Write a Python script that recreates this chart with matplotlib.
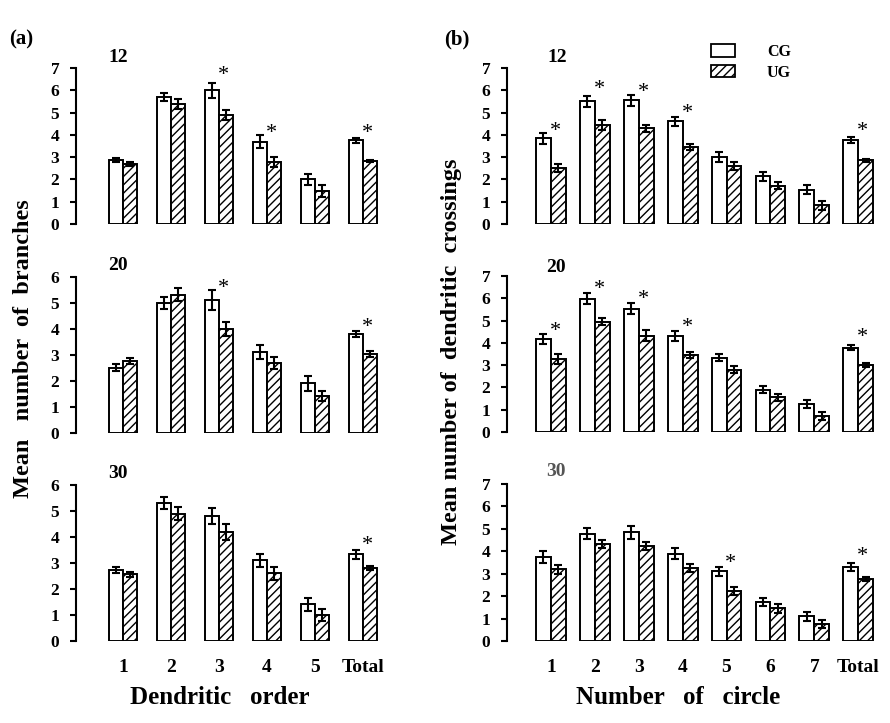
import numpy as np
import matplotlib
matplotlib.use('Agg')
import matplotlib.pyplot as plt
from matplotlib.patches import Patch

plt.rcParams['font.family'] = ['Liberation Serif', 'DejaVu Serif']
plt.rcParams['font.weight'] = 'bold'
plt.rcParams['hatch.linewidth'] = 1.0

# ---- data ----
order_labels = ['1', '2', '3', '4', '5', 'Total']
circle_labels = ['1', '2', '3', '4', '5', '6', '7', 'Total']

# (a) mean number of branches, CG / UG, mean and error
br12_cg = [2.85, 5.7, 6.0, 3.7, 2.0, 3.75]
br12_cg_err = [0.09, 0.16, 0.33, 0.3, 0.25, 0.13]
br12_ug = [2.7, 5.4, 4.89, 2.79, 1.48, 2.83]
br12_ug_err = [0.1, 0.22, 0.22, 0.22, 0.25, 0.05]
br12_stars = {3: 6.97, 4: 4.35, 6: 4.35}

br20_cg = [2.51, 5.01, 5.12, 3.13, 1.91, 3.82]
br20_cg_err = [0.13, 0.24, 0.37, 0.27, 0.28, 0.12]
br20_ug = [2.77, 5.32, 4.01, 2.7, 1.41, 3.04]
br20_ug_err = [0.11, 0.24, 0.26, 0.23, 0.19, 0.1]
br20_stars = {3: 5.81, 6: 4.31}

br30_cg = [2.72, 5.31, 4.81, 3.1, 1.41, 3.33]
br30_cg_err = [0.11, 0.22, 0.3, 0.26, 0.26, 0.16]
br30_ug = [2.56, 4.9, 4.2, 2.6, 1.0, 2.81]
br30_ug_err = [0.1, 0.24, 0.3, 0.25, 0.22, 0.08]
br30_stars = {6: 3.94}

# (b) mean number of dendritic crossings
cr12_cg = [3.85, 5.5, 5.56, 4.6, 3.0, 2.14, 1.54, 3.76]
cr12_cg_err = [0.25, 0.25, 0.25, 0.22, 0.22, 0.19, 0.2, 0.14]
cr12_ug = [2.5, 4.44, 4.29, 3.45, 2.6, 1.71, 0.84, 2.85]
cr12_ug_err = [0.18, 0.24, 0.15, 0.15, 0.17, 0.16, 0.2, 0.07]
cr12_stars = {1: 4.45, 2: 6.33, 3: 6.2, 4: 5.25, 8: 4.45}

cr20_cg = [4.18, 5.99, 5.54, 4.31, 3.34, 1.9, 1.25, 3.79]
cr20_cg_err = [0.22, 0.26, 0.25, 0.24, 0.14, 0.15, 0.19, 0.12]
cr20_ug = [3.28, 4.94, 4.33, 3.46, 2.79, 1.55, 0.73, 3.01]
cr20_ug_err = [0.22, 0.16, 0.24, 0.15, 0.16, 0.14, 0.18, 0.1]
cr20_stars = {1: 4.8, 2: 6.67, 3: 6.22, 4: 5.0, 8: 4.55}

cr30_cg = [3.74, 4.78, 4.84, 3.89, 3.1, 1.74, 1.1, 3.31]
cr30_cg_err = [0.28, 0.25, 0.28, 0.25, 0.19, 0.18, 0.2, 0.18]
cr30_ug = [3.19, 4.32, 4.23, 3.25, 2.24, 1.45, 0.75, 2.77]
cr30_ug_err = [0.22, 0.19, 0.18, 0.17, 0.18, 0.18, 0.17, 0.1]
cr30_stars = {5: 3.76, 8: 4.05}


def draw_panel(ax, labels, cg, cg_err, ug, ug_err, stars, ytop, width, xright, show_x):
    x = np.arange(1, len(labels) + 1)
    eb = dict(ecolor='black', elinewidth=1.5, capsize=3, capthick=1.5)
    ax.bar(x - width / 2, cg, width, yerr=cg_err, color='white', edgecolor='black',
           linewidth=1.4, error_kw=eb, zorder=2)
    ax.bar(x + width / 2, ug, width, yerr=ug_err, color='white', edgecolor='black',
           linewidth=1.4, hatch='////', error_kw=eb, zorder=2)
    for g, h in stars.items():
        ax.annotate('*', xy=(g + 0.1, h), xytext=(0, -8), textcoords='offset points',
                    ha='center', va='baseline', fontsize=16, fontweight='normal')
    ax.set_ylim(0, ytop)
    ax.set_xlim(0.02 if len(labels) == 6 else 0.0, xright)
    ax.set_yticks(range(0, ytop + 1))
    for s in ['top', 'right', 'bottom']:
        ax.spines[s].set_visible(False)
    ax.spines['left'].set_linewidth(1.5)
    ax.tick_params(axis='y', direction='out', length=4, width=1.5, pad=8, labelsize=12.5)
    ax.set_xticks(x)
    if show_x:
        ax.set_xticklabels(labels, fontsize=14)
        ax.tick_params(axis='x', length=0, pad=13)
    else:
        ax.set_xticklabels([])
        ax.tick_params(axis='x', length=0)


W, H = 890, 723
fig = plt.figure(figsize=(W / 100, H / 100), dpi=100)


def add_axes(left, right, top, bottom):
    return fig.add_axes([left / W, 1 - bottom / H, (right - left) / W, (bottom - top) / H])


axa1 = add_axes(76, 385, 68, 224)
axa2 = add_axes(76, 385, 277, 433)
axa3 = add_axes(76, 385, 485, 641)
axb1 = add_axes(507, 878, 68, 224)
axb2 = add_axes(507, 878, 276, 432)
axb3 = add_axes(507, 878, 484, 641)

draw_panel(axa1, order_labels, br12_cg, br12_cg_err, br12_ug, br12_ug_err, br12_stars, 7, 0.29, 6.46, False)
draw_panel(axa2, order_labels, br20_cg, br20_cg_err, br20_ug, br20_ug_err, br20_stars, 6, 0.29, 6.46, False)
draw_panel(axa3, order_labels, br30_cg, br30_cg_err, br30_ug, br30_ug_err, br30_stars, 6, 0.29, 6.46, True)
draw_panel(axb1, circle_labels, cr12_cg, cr12_cg_err, cr12_ug, cr12_ug_err, cr12_stars, 7, 0.34, 8.45, False)
draw_panel(axb2, circle_labels, cr20_cg, cr20_cg_err, cr20_ug, cr20_ug_err, cr20_stars, 7, 0.34, 8.45, False)
draw_panel(axb3, circle_labels, cr30_cg, cr30_cg_err, cr30_ug, cr30_ug_err, cr30_stars, 7, 0.34, 8.45, True)

# panel titles
for (px, py, t, c) in [(118, 57, '12', 'black'), (118, 265, '20', 'black'), (118, 473, '30', 'black'),
                       (557, 57, '12', 'black'), (556, 267, '20', 'black'), (556, 471, '30', '#555555')]:
    fig.text(px / W, 1 - py / H, t, ha='center', va='center', fontsize=14, color=c)

fig.text(21 / W, 1 - 39 / H, '(a)', ha='center', va='center', fontsize=15)
fig.text(457 / W, 1 - 39 / H, '(b)', ha='center', va='center', fontsize=15)

fig.text(24 / W, 1 - 349 / H, 'Mean   number  of  branches', rotation=90,
         ha='center', va='center', fontsize=17.5)
fig.text(452 / W, 1 - 352 / H, 'Mean number of  dendritic  crossings', rotation=90,
         ha='center', va='center', fontsize=17.5)
fig.text(220 / W, 1 - 698 / H, 'Dendritic   order', ha='center', va='center', fontsize=18)
fig.text(678 / W, 1 - 698 / H, 'Number   of   circle', ha='center', va='center', fontsize=18)

handles = [Patch(facecolor='white', edgecolor='black', linewidth=1.3, label='CG'),
           Patch(facecolor='white', edgecolor='black', linewidth=1.3, hatch='////', label='UG')]
fig.legend(handles=handles, loc='upper left', bbox_to_anchor=(711 / W, 1 - 44 / H),
           frameon=False, fontsize=11.5, handlelength=1.5, handleheight=0.8,
           handletextpad=2.0, labelspacing=0.3, borderpad=0, borderaxespad=0)

fig.savefig('out.png', dpi=100)
